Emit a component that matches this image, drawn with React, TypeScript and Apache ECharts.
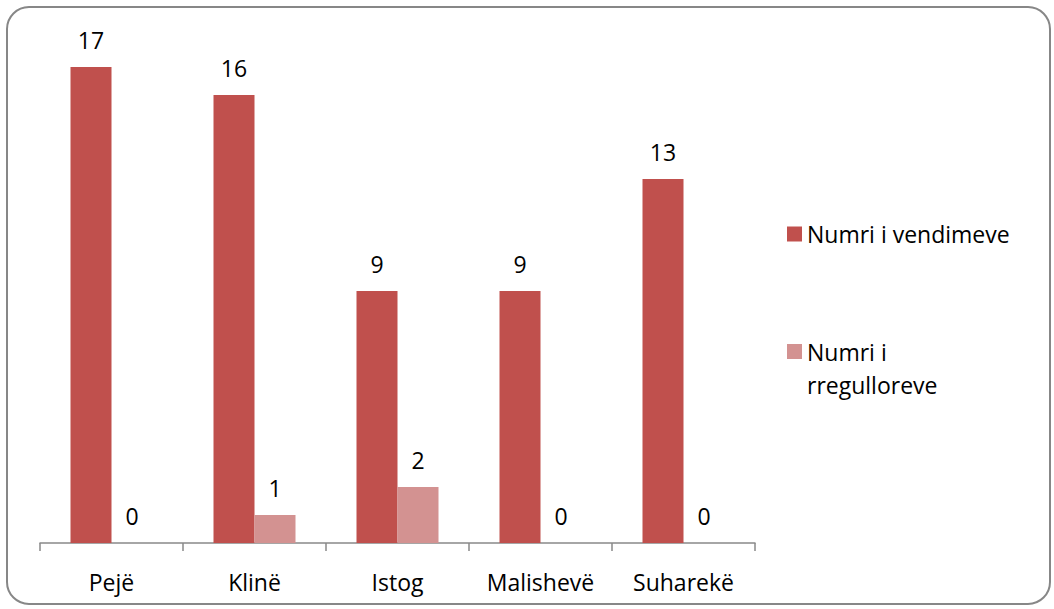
import React, { useEffect, useRef } from "react";
import * as echarts from "echarts";

const categories = ["Pejë", "Klinë", "Istog", "Malishevë", "Suharekë"];
const vendimeve = [17, 16, 9, 9, 13];
const rregulloreve = [0, 1, 2, 0, 0];
const seriesNames = ["Numri i vendimeve", "Numri i rregulloreve"];

const FONT = "Open Sans";
const FS = 23;

export default function App() {
  const ref = useRef<HTMLDivElement>(null);
  useEffect(() => {
    if (!ref.current) return;
    const chart = echarts.init(ref.current, null, { renderer: "svg" });
    const labelStyle = {
      show: true,
      position: "top",
      distance: 16,
      color: "#000",
      fontFamily: FONT,
      fontSize: FS,
    };
    chart.setOption({
      animation: false,
      backgroundColor: "#fff",
      textStyle: { fontFamily: FONT },
      graphic: [
        {
          type: "rect",
          shape: { x: 7, y: 7, width: 1043, height: 597, r: 22 },
          style: { fill: "none", stroke: "#878787", lineWidth: 2 },
          silent: true,
        },
      ],
      grid: { left: 40, right: 299, top: 39, bottom: 66 },
      xAxis: {
        type: "category",
        data: categories,
        axisLine: { lineStyle: { color: "#898989", width: 1.5 } },
        axisTick: { show: true, length: 8, lineStyle: { color: "#898989", width: 1.5 } },
        axisLabel: { color: "#000", fontFamily: FONT, fontSize: FS, margin: 27 },
      },
      yAxis: {
        type: "value",
        min: 0,
        max: 18,
        show: false,
        splitLine: { show: false },
      },
      legend: [
        {
          data: [seriesNames[0]],
          orient: "vertical",
          left: 787,
          top: 220,
          padding: 0,
          itemWidth: 15,
          itemHeight: 15,
          icon: "rect",
          textStyle: { color: "#000", fontFamily: FONT, fontSize: FS, lineHeight: 28 },
        },
        {
          data: [seriesNames[1]],
          orient: "vertical",
          left: 787,
          top: 307,
          padding: 0,
          itemWidth: 15,
          itemHeight: 15,
          icon: "rect",
          formatter: () => "{p| }\n{a|Numri i}\n{a|rregulloreve}",
          textStyle: {
            color: "#000",
            fontFamily: FONT,
            fontSize: FS,
            rich: {
              p: { fontFamily: FONT, fontSize: FS, lineHeight: 33 },
              a: { fontFamily: FONT, fontSize: FS, lineHeight: 33, color: "#000" },
            },
          },
        },
      ],
      series: [
        {
          name: seriesNames[0],
          type: "bar",
          data: vendimeve,
          barWidth: 41,
          barGap: "0%",
          itemStyle: { color: "#C0504D" },
          label: labelStyle,
        },
        {
          name: seriesNames[1],
          type: "bar",
          data: rregulloreve,
          barWidth: 41,
          barGap: "0%",
          itemStyle: { color: "#D39291" },
          label: labelStyle,
        },
      ],
    });
    return () => chart.dispose();
  }, []);
  return (
    <div
      ref={ref}
      style={{ position: "absolute", left: 0, top: 0, width: 1054, height: 609 }}
    />
  );
}
